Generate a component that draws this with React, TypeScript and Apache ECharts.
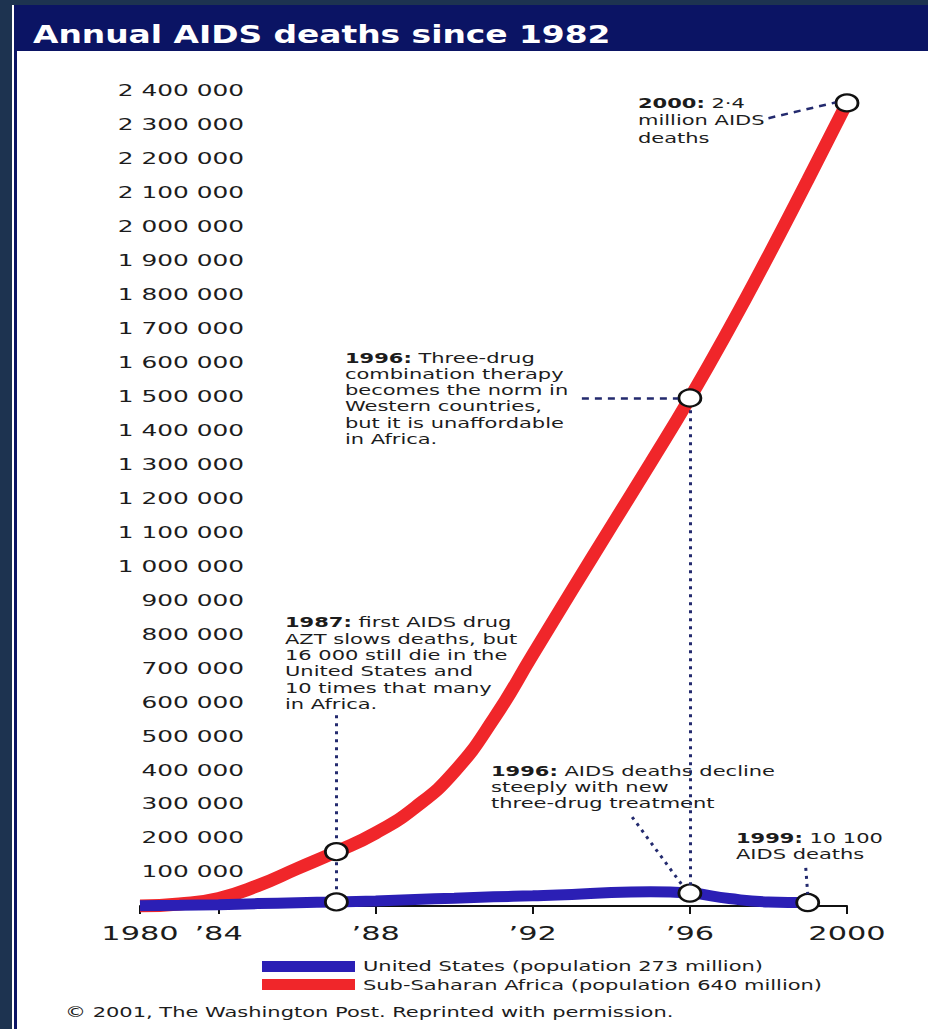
import React, { useEffect, useRef } from 'react';
import * as echarts from 'echarts';

// ---- data ----
const years = [1982, 1983, 1984, 1985, 1986, 1987, 1988, 1989, 1990, 1991, 1992, 1993, 1994, 1995, 1996, 1997, 1998, 1999, 2000];
const africaDeaths = [0, 6000, 22000, 60000, 110000, 160000, 215000, 290000, 395000, 550000, 740000, 930000, 1118000, 1305000, 1496000, 1700000, 1915000, 2138000, 2365000];
const usYears = [1982, 1983, 1984, 1985, 1986, 1987, 1988, 1989, 1990, 1991, 1992, 1993, 1994, 1995, 1996, 1997, 1998, 1999];
const usDeaths = [500, 2000, 4000, 7000, 9500, 12000, 15000, 19000, 23000, 27000, 30000, 34000, 40000, 42000, 38000, 22000, 12000, 10100];
const africaMarkedYears = [1987, 1996, 2000];
const usMarkedYears = [1987, 1996, 1999];

const yTickValues = [100000, 200000, 300000, 400000, 500000, 600000, 700000, 800000, 900000, 1000000, 1100000, 1200000, 1300000, 1400000, 1500000, 1600000, 1700000, 1800000, 1900000, 2000000, 2100000, 2200000, 2300000, 2400000];
const xTickValues = [1982, 1984, 1988, 1992, 1996, 2000];
const xTickLabels = ['1980', '\u201984', '\u201988', '\u201992', '\u201996', '2000'];

// leader lines, in data coordinates [year, deaths]
const dashedLeaders = [
  [[1998.0, 2320000], [1999.7, 2366000]],
  [[1993.25, 1496000], [1995.7, 1496000]],
];
const dottedLeaders = [
  [[1996, 1460000], [1996, 62000]],
  [[1987, 562000], [1987, 194000]],
  [[1987, 129000], [1987, 37000]],
  [[1994.53, 262000], [1995.8, 62000]],
  [[1998.95, 112000], [1999, 35000]],
];

const FONT = '"DejaVu Sans", sans-serif';
const TEXT = '#1c1c1c';
const NAVY = '#0b1464';
const SLATE = '#1d3350';
const RED = '#f0262a';
const BLUE = '#2b1fb5';
const LEADER = '#232a6e';

const fmt = (v: number) => String(Math.round(v)).replace(/\B(?=(\d{3})+(?!\d))/g, ' ');

function annotation(x: number, y: number, text: string, lh: number) {
  return {
    type: 'text',
    x,
    y,
    scaleX: 1.5,
    silent: true,
    style: {
      text,
      fill: TEXT,
      fontSize: 14,
      fontFamily: FONT,
      lineHeight: lh,
      align: 'left',
      verticalAlign: 'top',
      textAlign: 'left',
      textVerticalAlign: 'top',
      rich: {
        b: { fontWeight: 'bold', fontSize: 14, fontFamily: FONT, fill: TEXT, lineHeight: lh },
      },
    },
  };
}

export default function App() {
  const ref = useRef<HTMLDivElement>(null);

  useEffect(() => {
    if (!ref.current) return;
    const chart = echarts.init(ref.current, undefined, { renderer: 'svg' });

    const marker = { symbol: 'circle', symbolSize: [22, 17], itemStyle: { color: '#ffffff', borderColor: '#111111', borderWidth: 2.5 } };

    const africaData = years.map((y, i) =>
      africaMarkedYears.includes(y) ? { value: [y, africaDeaths[i]], ...marker } : { value: [y, africaDeaths[i]], symbol: 'none' }
    );
    const usData = usYears.map((y, i) =>
      usMarkedYears.includes(y) ? { value: [y, usDeaths[i]], ...marker } : { value: [y, usDeaths[i]], symbol: 'none' }
    );

    const leaderData = [
      ...dashedLeaders.map((seg) => [
        { coord: seg[0], lineStyle: { color: LEADER, width: 2.5, type: [7, 6] } },
        { coord: seg[1] },
      ]),
      ...dottedLeaders.map((seg) => [
        { coord: seg[0], lineStyle: { color: LEADER, width: 3, type: [3, 5] } },
        { coord: seg[1] },
      ]),
    ];

    const option: any = {
      animation: false,
      backgroundColor: '#ffffff',
      grid: { left: 140, right: 81, top: 91, bottom: 123, outerBoundsMode: 'none' },
      xAxis: {
        type: 'value',
        min: 1982,
        max: 2000,
        offset: 6,
        splitLine: { show: false },
        axisLine: { show: true, lineStyle: { color: '#111', width: 2 } },
        axisTick: { show: true, length: 8, lineStyle: { color: '#111', width: 2 }, customValues: xTickValues },
        axisLabel: { show: false },
      },
      yAxis: {
        type: 'value',
        min: 0,
        max: 2400000,
        interval: 100000,
        axisLine: { show: false },
        axisTick: { show: false },
        splitLine: { show: false },
        axisLabel: { show: false },
      },
      series: [
        {
          name: 'Sub-Saharan Africa (population 640 million)',
          type: 'line',
          smooth: 0.5,
          silent: true,
          showSymbol: true,
          symbol: 'none',
          lineStyle: { color: RED, width: 13 },
          itemStyle: { color: RED },
          data: africaData,
          z: 3,
          markLine: {
            silent: true,
            symbol: ['none', 'none'],
            label: { show: false },
            data: leaderData,
          },
        },
        {
          name: 'United States (population 273 million)',
          type: 'line',
          smooth: 0.5,
          silent: true,
          showSymbol: true,
          symbol: 'none',
          lineStyle: { color: BLUE, width: 11 },
          itemStyle: { color: BLUE },
          data: usData,
          z: 4,
        },
        {
          type: 'custom',
          coordinateSystem: 'cartesian2d',
          silent: true,
          z: 6,
          data: yTickValues.map((v) => [1982, v]),
          renderItem: (params: any, api: any) => {
            const p = api.coord([api.value(0), api.value(1)]);
            return {
              type: 'text',
              x: p[0] + 104,
              y: p[1],
              scaleX: 1.55,
              style: {
                text: fmt(api.value(1)),
                fill: TEXT,
                fontSize: 16,
                fontFamily: FONT,
                align: 'right',
                verticalAlign: 'middle',
                textAlign: 'right',
                textVerticalAlign: 'middle',
              },
            };
          },
        },
        {
          type: 'custom',
          coordinateSystem: 'cartesian2d',
          silent: true,
          z: 6,
          data: xTickValues.map((v, i) => [v, 0, i]),
          renderItem: (params: any, api: any) => {
            const p = api.coord([api.value(0), 0]);
            return {
              type: 'text',
              x: p[0],
              y: p[1] + 27,
              scaleX: 1.6,
              style: {
                text: xTickLabels[api.value(2)],
                fill: TEXT,
                fontSize: 19,
                fontFamily: FONT,
                align: 'center',
                verticalAlign: 'middle',
                textAlign: 'center',
                textVerticalAlign: 'middle',
              },
            };
          },
        },
      ],
      graphic: [
        { type: 'rect', silent: true, shape: { x: 0, y: 0, width: 928, height: 5 }, style: { fill: SLATE } },
        { type: 'rect', silent: true, shape: { x: 0, y: 0, width: 12, height: 1029 }, style: { fill: SLATE } },
        { type: 'rect', silent: true, shape: { x: 14, y: 5, width: 914, height: 46 }, style: { fill: NAVY } },
        { type: 'rect', silent: true, shape: { x: 14, y: 51, width: 3, height: 978 }, style: { fill: NAVY } },
        {
          type: 'text',
          x: 33,
          y: 35,
          scaleX: 1.37,
          silent: true,
          style: {
            text: 'Annual AIDS deaths since 1982',
            fill: '#ffffff',
            fontSize: 24,
            fontWeight: 'bold',
            fontFamily: FONT,
            align: 'left',
            verticalAlign: 'middle',
            textAlign: 'left',
            textVerticalAlign: 'middle',
          },
        },
        annotation(638, 94, '{b|2000:} 2\u00b74\nmillion AIDS\ndeaths', 17.5),
        annotation(345, 350, '{b|1996:} Three-drug\ncombination therapy\nbecomes the norm in\nWestern countries,\nbut it is unaffordable\nin Africa.', 16.1),
        annotation(285, 614, '{b|1987:} first AIDS drug\nAZT slows deaths, but\n16 000 still die in the\nUnited States and\n10 times that many\nin Africa.', 16.4),
        annotation(491, 763, '{b|1996:} AIDS deaths decline\nsteeply with new\nthree-drug treatment', 16),
        annotation(736, 830, '{b|1999:} 10 100\nAIDS deaths', 16),
        { type: 'rect', silent: true, shape: { x: 262, y: 961, width: 93, height: 11 }, style: { fill: BLUE } },
        { type: 'rect', silent: true, shape: { x: 262, y: 979, width: 93, height: 11 }, style: { fill: RED } },
        {
          type: 'text', x: 363, y: 966, scaleX: 1.5, silent: true,
          style: { text: 'United States (population 273 million)', fill: TEXT, fontSize: 14, fontFamily: FONT, align: 'left', verticalAlign: 'middle', textAlign: 'left', textVerticalAlign: 'middle' },
        },
        {
          type: 'text', x: 363, y: 985, scaleX: 1.5, silent: true,
          style: { text: 'Sub-Saharan Africa (population 640 million)', fill: TEXT, fontSize: 14, fontFamily: FONT, align: 'left', verticalAlign: 'middle', textAlign: 'left', textVerticalAlign: 'middle' },
        },
        {
          type: 'text', x: 65, y: 1012, scaleX: 1.5, silent: true,
          style: { text: '\u00a9 2001, The Washington Post. Reprinted with permission.', fill: TEXT, fontSize: 14, fontFamily: FONT, align: 'left', verticalAlign: 'middle', textAlign: 'left', textVerticalAlign: 'middle' },
        },
      ],
    };

    chart.setOption(option);
    return () => chart.dispose();
  }, []);

  return (
    <div
      ref={ref}
      style={{ position: 'absolute', left: 0, top: 0, width: 928, height: 1029 }}
    />
  );
}
